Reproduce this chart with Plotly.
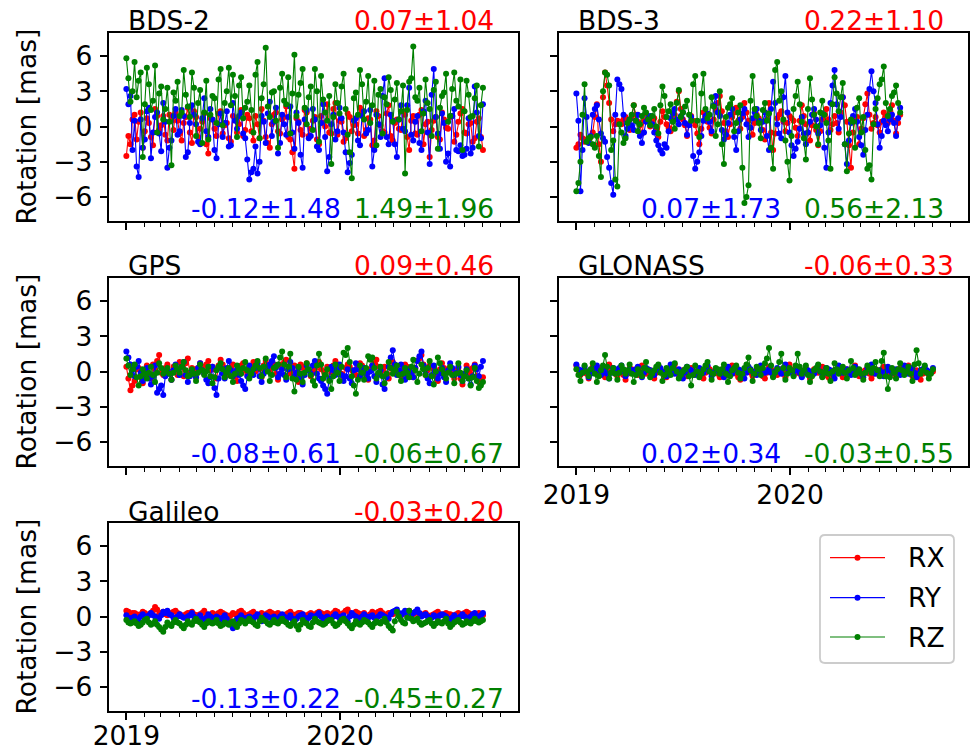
import datetime as dt
import plotly.graph_objects as go

# ---------------- data ----------------
# each series is read in two interleaved weekly samplings:
#   <name>      : weekly values starting 2019-01-01
#   <name>_mid  : weekly values starting 3.5 days later
START = dt.datetime(2019, 1, 1)
MID_OFFSET_H = 84
STEP_DAYS = 7

panel_names = ["BDS-2", "BDS-3", "GPS", "GLONASS", "Galileo"]
stat_rx = ["0.07±1.04", "0.22±1.10", "0.09±0.46", "-0.06±0.33", "-0.03±0.20"]
stat_ry = ["-0.12±1.48", "0.07±1.73", "-0.08±0.61", "0.02±0.34", "-0.13±0.22"]
stat_rz = ["1.49±1.96", "0.56±2.13", "-0.06±0.67", "-0.03±0.55", "-0.45±0.27"]

series_names = ["RX", "RY", "RZ"]
series_colors = ["#ff0000", "#0000ff", "#008000"]

y_tickvals = [-6, -3, 0, 3, 6]
y_ticktext = ["−6", "−3", "0", "3", "6"]
x_tickvals = ["2019-01-01", "2020-01-01"]
x_ticktext = ["2019", "2020"]

bds2_rx = [-2.5, -1.5, 1.0, 0.4, -1.8, 0.7, -0.9, 1.5, -0.3, 0.9,
           -1.2, 0.5, 1.2, -0.6, 0.3, 1.6, -1.4, 0.8, -0.2, 1.1,
           -2.3, 0.6, -0.8, 1.3, 0.1, -1.0, 0.9, -0.5, 1.4, -0.3,
           0.7, -1.2, 0.2, 1.5, -0.9, -1.8, 1.0, -0.4, 0.6, 1.7,
           -1.1, -3.6, 0.4, -0.7, 1.2, -0.2, 0.8, -1.5, 0.3, 1.9,
           -0.6, 2.0, 0.5, -1.3, 1.1, -0.4, 0.2, 1.6, -0.8, 0.7,
           -1.6, 1.3, 0.1, -0.5, 1.8, -1.2, 0.6, -0.3, 1.0, -2.0,
           0.9, -0.7, 1.4, 0.2, -2.6, 0.5, -0.9, 1.2, -0.1, 0.8,
           -1.3, 0.4, 1.5, -0.6, 0.3, -1.0, 0.7, -2.0]
bds2_rx_mid = [-0.8, 0.6, -1.1, 1.2, -0.4, 0.3, -1.6, 0.9, 0.1, -0.7,
               1.0, -0.3, 0.5, -1.2, 0.8, -0.5, 1.3, -0.9, 0.4, -1.5,
               0.7, -0.2, 1.1, -0.6, 0.3, -1.3, 0.6, 0.2, -0.8, 1.0,
               -0.4, 0.9, -1.0, 0.5, -1.4, 0.2, 1.2, -0.6, 0.8, -0.9,
               -2.2, 0.7, -0.3, 1.4, -0.8, 0.5, -1.1, 0.9, 0.0, -0.5,
               1.5, -0.7, 0.4, -1.0, 0.8, 0.1, -0.6, 1.2, -0.3, 0.6,
               -1.2, 0.9, -0.4, 1.1, -0.8, 0.3, -0.2, 1.3, -0.9, 0.5,
               -0.6, 1.0, -1.5, 0.4, -0.3, 0.8, -1.1, 0.6, -0.2, 0.9,
               -0.7, 1.1, -0.5, 0.2, -1.3, 0.4, -0.9]
bds2_ry = [3.2, 2.6, 0.5, -4.3, -1.8, 1.3, -2.7, 0.8, -0.6, 2.0,
           -3.5, -1.2, 1.5, -0.4, 0.9, -2.2, 1.8, 0.2, -1.5, 2.4,
           -0.9, 0.6, -2.7, 1.1, 0.3, -1.7, 2.0, -0.2, 1.2, -1.0,
           -4.5, -3.6, -4.0, 0.9, -1.4, 2.1, 0.4, -2.3, 1.0, -0.7,
           1.7, -1.9, 0.3, -3.5, 1.4, -0.8, 0.6, -2.0, 1.9, -3.8,
           0.2, -1.1, 1.6, -0.5, -3.9, -2.4, 0.7, -1.6, 1.3, -0.3,
           -3.4, 1.0, -0.9, 4.1, -1.5, 0.5, -2.6, 1.8, -0.4, 3.3,
           -1.2, 0.9, -2.0, 2.2, -3.2, 4.9, -0.6, 1.1, -3.0, -3.4,
           1.5, -2.1, -2.5, -1.9, -2.3, 3.4, -0.8, 1.9]
bds2_ry_mid = [1.9, -2.0, -3.4, 0.6, -1.1, 1.6, -0.5, 1.2, -2.1, 0.4,
               -1.8, 0.9, -0.7, 1.4, -2.6, 0.3, 1.0, -1.3, 0.7, -0.4,
               1.5, -2.0, 0.2, -0.9, 1.3, -1.6, 0.5, 0.9, -0.6, -2.8,
               -3.9, -1.7, -3.0, 0.4, 1.1, -0.8, 1.6, -1.4, 0.2, 0.8,
               -0.5, 1.2, -2.4, 0.6, -1.0, 1.5, -1.7, 0.3, -0.9, -2.6,
               1.0, -0.4, 0.7, -2.2, -3.1, 0.5, -1.2, 0.9, -0.6, 1.4,
               -2.0, 0.2, 2.6, -0.9, 1.0, -1.5, 0.6, -0.2, 1.8, -0.7,
               0.4, -1.4, 1.3, -0.5, 2.7, 0.8, -1.9, 0.3, -2.3, 0.9,
               -2.0, -1.6, -2.4, 0.7, -1.8, 1.2, -1.0]
bds2_rz = [5.8, 2.1, 5.5, 3.9, -2.6, 5.0, 1.4, 5.2, 2.8, 0.6,
           3.3, -3.3, 2.2, 0.9, 4.8, 1.7, 4.6, -0.8, 3.1, 1.2,
           -1.1, 2.6, 0.3, 4.9, 2.0, 5.0, 4.4, -0.9, 4.2, 1.6,
           3.5, -0.5, 5.5, 2.4, 6.7, 0.8, 3.0, -1.8, 4.5, 1.9,
           -0.6, 6.1, 2.7, 4.9, 0.2, 3.4, 4.9, -1.3, 2.3, 0.5,
           -3.2, 3.6, 1.1, 4.5, -0.7, -4.4, 2.9, 4.8, 0.6, 4.3,
           1.8, -1.6, 3.2, 2.5, 4.2, 0.4, 3.7, 1.3, -4.0, 3.8,
           6.8, 2.2, -0.4, 4.0, 1.5, 3.1, -1.9, 2.6, 4.5, 0.9,
           4.6, 1.7, -2.0, 3.9, 0.8, 2.4, -1.7, 3.3]
bds2_rz_mid = [4.1, 3.0, 2.5, 4.6, 1.9, 3.6, 2.2, -0.5, 3.4, 1.5,
               0.4, 2.9, 3.8, 1.2, 2.7, 0.8, 3.3, 2.0, -1.4, 3.9,
               1.0, 2.4, 4.0, 0.1, 3.0, 1.8, 2.6, 3.5, 0.7, 2.1,
               1.4, 4.4, -1.0, 3.6, 1.7, 2.9, 0.5, 3.3, 2.2, 4.2,
               2.8, 0.9, 3.7, 1.6, 2.5, -0.3, 3.0, 4.3, 1.2, 2.6,
               0.8, 2.0, 3.4, 1.5, -2.2, 2.4, 1.0, 3.6, 2.1, 0.3,
               3.9, 2.7, -0.6, 1.9, 3.1, 2.3, 0.6, 3.5, 1.4, 4.1,
               2.5, 3.3, 1.1, 2.0, -0.8, 3.8, 1.6, 2.9, 0.4, 3.2,
               2.2, 4.0, 1.3, 2.7, 0.9, 3.5, 1.8]

bds3_rx = [-1.8, -0.7, -1.3, -1.2, -0.5, 1.9, -3.0, 4.6, 2.0, -0.4,
           0.5, 0.2, 0.8, -0.3, 1.8, 0.4, -0.6, 1.1, 0.0, 0.7,
           -0.9, 1.3, 0.2, -0.4, 1.0, 3.0, 0.6, -0.8, 0.9, 0.1,
           -1.5, 1.2, 0.4, -0.6, 1.4, 2.6, 0.3, -0.9, 0.8, 1.6,
           -0.2, 2.0, 0.5, -0.7, 1.0, 0.4, -1.1, 2.0, -2.0, 0.7,
           1.3, -0.4, 0.9, 0.5, -0.8, 1.8, 0.2, -1.2, 1.1, -1.6,
           0.6, 1.5, -0.3, 0.9, -0.5, 2.5, 0.4, -3.5, 0.5, -1.5,
           0.7, 2.8, -0.2, 0.8, -0.5, 1.2, 0.3, 1.8, -0.6, 1.0]
bds3_rx_mid = [-1.5, -1.0, -1.1, -0.9, 0.8, -1.5, 2.5, 3.5, 0.6, 0.2,
               0.4, 0.6, 0.3, 0.7, 1.0, 0.1, 0.5, 0.6, 0.3, -0.2,
               0.4, 0.8, -0.1, 0.5, 2.1, 1.5, 0.1, 0.2, 0.5, -0.6,
               -0.2, 0.8, -0.1, 0.6, 2.0, 1.3, -0.4, 0.2, 1.2, 0.5,
               0.8, 1.2, -0.1, 0.3, 0.7, -0.3, 0.6, -0.5, -0.6, 1.0,
               0.4, 0.3, 0.7, -0.1, 0.5, 0.9, -0.5, 0.1, -0.3, -0.4,
               1.0, 0.6, 0.2, 0.3, 1.2, 1.8, -1.6, -0.5, 0.8, -0.2,
               1.9, 1.0, 0.3, 0.1, 0.4, 0.9, 1.2, 0.5, 0.3]
bds3_ry = [2.8, -5.5, 2.4, -1.4, 1.0, 1.8, -0.6, -1.3, -3.5, -5.8,
           4.0, 3.2, -0.8, 0.6, -0.3, 1.0, -1.4, 0.4, 0.9, -0.5,
           -1.6, -2.3, -1.8, 0.7, 1.5, 0.2, 1.2, -0.7, 0.8, -3.6,
           -2.2, 0.5, 1.1, -0.4, 2.6, 0.9, -1.1, 0.3, 1.5, -2.0,
           0.6, 1.5, -0.9, 0.7, 1.5, -0.3, 1.2, -2.0, 3.8, 0.2,
           -1.0, 4.3, -0.5, -2.5, -1.3, 0.8, -1.5, 0.4, 1.5, -0.6,
           1.1, -3.5, 2.0, 4.8, -0.2, 2.5, -3.2, 0.3, 1.5, -0.9,
           -2.4, 1.0, 4.7, 2.0, -1.8, 0.5, -0.4, 1.0, -0.8, 1.6]
bds3_ry_mid = [0.5, -2.0, 0.8, -0.8, 1.5, 0.6, -1.0, -2.6, -4.8, 1.0,
               3.6, 1.0, -0.2, 0.1, 0.5, -0.8, -0.5, 0.7, 0.2, -1.2,
               -2.0, -1.5, -0.4, 1.1, 0.6, 0.9, 0.3, 0.1, -2.5, -3.0,
               -0.8, 0.9, 0.4, 1.8, 1.2, -0.3, -0.7, 1.0, -0.9, -0.4,
               1.1, 0.2, -0.1, 1.2, 0.5, 0.4, -0.8, 1.5, 2.0, -0.6,
               2.5, 1.2, -1.6, -1.9, -0.2, -0.6, -0.5, 1.0, 0.6, 0.1,
               -1.8, -0.5, 3.5, 1.9, 0.8, -1.5, -1.2, 0.9, 0.4, -1.6,
               -0.3, 3.2, 3.0, 0.2, -0.8, 0.1, 0.6, 0.3, 0.7]
bds3_rz = [-5.5, -3.0, 3.6, -1.0, -1.5, -0.8, -4.3, 4.6, 3.5, -1.2,
           -5.1, -0.5, -1.0, 0.6, 1.8, -0.4, 0.9, 1.2, 0.1, 1.5,
           -0.6, 3.4, 0.8, 1.9, -0.2, 3.1, 1.2, 2.2, 0.5, 4.3,
           -0.9, 4.5, 0.7, 2.5, -0.8, 3.0, -3.2, 1.6, 2.4, 0.3,
           1.8, -6.5, -5.0, 4.3, 0.9, -1.0, 2.0, 1.1, -3.6, 5.5,
           3.0, -1.2, -4.6, 1.5, 3.8, 0.4, -2.8, 4.1, 1.0, -1.5,
           2.2, 0.3, -3.6, 4.2, 1.3, 3.7, -3.8, 0.6, -1.8, 2.4,
           0.8, -3.6, -4.5, 1.5, 3.6, 5.1, 0.9, 2.6, 3.5, 1.2]
bds3_rz_mid = [-4.8, 1.0, -1.3, -0.9, -1.8, -2.5, 3.0, 4.4, -2.0, -4.5,
               0.2, -1.4, 0.3, 1.0, 0.5, 0.2, 1.6, 0.6, 0.9, 0.0,
               1.8, 2.6, 1.3, 0.4, 2.0, 0.8, 1.7, 1.0, 3.6, 0.5,
               2.8, 1.5, 1.0, 1.7, 0.2, -1.5, 0.8, 1.9, -0.4, 1.2,
               -3.5, -6.0, 2.2, 1.5, 0.3, 1.4, 0.5, -1.8, 4.8, 2.2,
               0.6, -3.0, -0.8, 2.6, 1.9, -1.0, 1.5, 2.3, 0.0, 1.2,
               1.0, -1.2, 1.9, 2.8, 2.5, -1.5, -0.6, 0.4, 1.6, -0.5,
               -2.0, -3.3, 0.2, 2.4, 4.0, 2.0, 1.5, 2.9, 2.0]

gps_rx = [0.4, -1.6, -0.8, 0.3, -1.0, 0.5, -0.6, 0.2, 1.4, -0.3,
          0.6, -0.7, 0.1, 0.8, -0.4, 1.1, 0.3, -0.5, 0.7, -0.2,
          0.9, 0.4, -0.6, 1.0, 0.2, -0.3, 0.6, -0.8, 0.5, 0.1,
          -0.4, 0.8, 0.3, -0.5, 0.9, 0.0, 0.6, -0.7, 0.4, 1.0,
          -0.2, 0.5, -0.9, 0.3, 0.7, -0.4, 0.2, 0.8, -0.6, 0.4,
          -0.1, 0.9, 0.3, -0.5, 0.6, 0.1, -0.3, 0.7, 0.2, -0.7,
          0.5, 1.0, -0.2, 0.4, -0.6, 0.8, 0.1, -0.4, 0.6, 0.3,
          -0.5, 0.9, 1.4, -0.3, 0.5, 0.2, -0.8, 0.7, 0.0, 0.4,
          -0.6, 0.3, -1.1, 0.5, -0.2, 0.6, -0.9, -0.5]
gps_rx_mid = [-0.6, -1.2, 0.2, -0.5, 0.1, -0.2, 0.6, 0.9, -0.1, 0.3,
              0.0, 0.4, -0.3, 0.5, 0.7, -0.1, 0.2, 0.3, 0.4, 0.6,
              0.1, 0.2, 0.5, 0.6, -0.1, 0.3, -0.4, 0.1, 0.7, -0.2,
              0.4, 0.0, 0.2, 0.5, 0.3, 0.4, -0.2, 0.6, 0.8, 0.2,
              0.1, -0.5, 0.6, 0.4, 0.1, -0.1, 0.5, 0.2, 0.0, 0.3,
              0.5, 0.6, -0.2, 0.3, 0.4, -0.1, 0.4, 0.5, -0.3, 0.2,
              0.7, 0.4, 0.1, -0.2, 0.3, 0.5, -0.1, 0.2, 0.4, -0.1,
              0.3, 1.1, 0.6, 0.1, 0.4, -0.4, 0.2, 0.3, 0.2, -0.2,
              0.1, -0.6, -0.2, 0.2, 0.3, -0.4, -0.7]
gps_ry = [1.7, 0.6, -0.4, 0.9, -0.8, 0.3, -1.1, 0.5, -1.5, -2.0,
          0.2, -0.7, 0.6, -0.3, 0.8, -0.9, 0.1, -0.5, 0.7, -0.2,
          -1.0, 0.4, -2.0, 0.3, -0.6, 0.9, -0.4, 0.2, -0.8, -1.5,
          0.5, -0.3, 0.7, -0.9, 0.1, 0.6, 1.3, -0.5, 0.2, -0.7,
          0.8, -0.4, 0.3, -1.1, 0.5, -0.2, 0.9, -0.6, -1.2, -1.9,
          0.4, -0.3, 0.6, -0.8, 0.2, -1.0, 0.7, -0.4, 0.3, -0.6,
          0.5, -0.9, 0.1, -1.5, 0.4, 1.8, -0.3, 0.6, -0.7, 0.2,
          -0.5, 0.9, 1.7, -0.2, -1.0, 0.5, -0.6, 0.3, -0.9, 0.7,
          -0.3, 0.4, -0.8, 0.2, -1.1, 0.5, -0.4, 0.9]
gps_ry_mid = [1.2, 0.1, 0.4, -0.1, -0.3, -0.6, -0.4, -1.8, -1.2, -0.4,
              -0.2, 0.1, 0.2, 0.4, -0.3, -0.4, -0.2, 0.3, 0.1, -0.7,
              -0.5, -1.4, -0.6, -0.2, 0.3, 0.1, -0.1, -0.3, -1.2, -0.4,
              0.1, 0.3, -0.4, -0.2, 0.4, 0.9, 0.3, -0.2, -0.3, 0.2,
              0.3, -0.1, -0.5, -0.3, 0.1, 0.5, -0.2, -0.8, -1.5, -0.6,
              0.1, 0.2, -0.3, -0.4, -0.6, 0.1, 0.2, -0.1, -0.2, 0.0,
              -0.4, -0.3, -1.1, -0.5, 1.2, 0.6, 0.1, -0.2, -0.3, -0.1,
              0.3, 1.3, 0.5, -0.6, -0.3, 0.0, -0.2, -0.5, 0.1, 0.3,
              -0.1, -0.3, -0.2, -0.6, -0.4, 0.2, 0.4]
gps_rz = [1.1, -0.3, 0.6, -1.2, 0.2, -0.6, 0.4, -0.9, 0.7, -0.2,
          0.3, -0.7, 0.5, -0.1, 0.8, -0.4, 0.2, -0.8, 0.6, -0.3,
          0.4, -1.0, 0.1, 0.7, -0.5, 0.3, -0.9, 0.5, -0.2, 0.8,
          -0.6, 0.2, 0.9, -0.4, 1.1, -0.8, 0.3, 0.6, 1.7, -0.5,
          1.5, -1.7, 0.4, -0.9, 0.7, -0.3, -1.2, 1.5, -0.6, 0.2,
          -1.5, 0.6, -0.8, 1.6, 2.0, -0.4, -1.9, 0.5, -0.7, 1.3,
          1.2, -0.6, 0.4, -1.0, 0.8, -0.2, 0.5, -0.8, 0.3, -0.5,
          1.0, -0.9, 0.6, -0.3, 0.9, -1.1, 1.2, 0.2, -0.6, 0.4,
          -1.0, 0.7, -0.8, 0.1, -1.2, 0.3, -1.4, -0.9]
gps_rz_mid = [0.5, 0.2, -0.5, -0.4, -0.2, -0.1, -0.3, -0.1, 0.3, 0.0,
              -0.2, -0.1, 0.2, 0.4, 0.1, -0.3, -0.2, -0.1, 0.1, 0.0,
              -0.4, -0.5, 0.4, 0.2, -0.1, -0.4, -0.2, 0.2, 0.3, 0.1,
              -0.2, 0.5, 0.3, 0.4, 0.0, -0.3, 0.4, 1.2, 0.6, 0.4,
              -0.6, -0.7, -0.2, -0.1, 0.2, -0.8, 0.5, 0.6, -0.3, -0.8,
              -0.4, -0.1, 0.4, 1.4, 0.8, -1.2, -0.7, -0.1, 0.3, 1.0,
              0.3, -0.1, -0.4, -0.2, 0.3, 0.1, -0.3, -0.2, -0.1, 0.4,
              0.1, -0.2, 0.2, 0.3, -0.4, 0.0, 0.7, -0.2, -0.1, -0.3,
              -0.2, -0.1, -0.4, -0.6, -0.5, -0.8, -1.2]

glo_rx = [0.5, -0.3, 0.2, -0.6, 0.4, -0.1, 0.3, -0.5, 0.6, 0.1,
          -0.4, 0.2, -0.7, 0.3, 0.0, -0.3, 0.5, -0.2, 0.1, -0.6,
          0.4, -0.1, -0.5, 0.2, 0.6, -0.3, 0.1, -0.4, 0.3, -0.2,
          0.0, -0.6, 0.4, -0.1, 0.2, -0.5, 0.3, -0.3, 0.5, -0.2,
          -0.7, 0.1, 0.3, -0.4, 0.2, -0.1, -0.6, 0.4, 0.0, -0.3,
          0.2, -0.5, 0.6, -0.2, 0.1, -0.4, 0.3, -0.6, 0.2, -0.1,
          0.4, -0.3, -0.7, 0.1, 0.3, -0.5, 0.2, -0.2, 0.5, -0.4,
          0.0, 0.3, -0.6, 0.2, -0.1, 0.4, -0.3, 0.1, -0.5, 0.3,
          -0.2, 0.5, -0.4, 0.1, -0.7, 0.2, -0.3, 0.0]
glo_rx_mid = [0.1, -0.1, -0.2, -0.1, 0.2, 0.1, -0.1, 0.0, 0.3, -0.2,
              -0.1, -0.3, -0.2, 0.2, -0.2, 0.1, 0.2, -0.1, -0.3, -0.1,
              0.2, -0.4, 0.0, 0.4, 0.1, -0.2, -0.1, 0.0, 0.1, -0.2,
              -0.3, -0.1, 0.2, 0.0, -0.2, -0.1, 0.0, 0.2, 0.1, -0.5,
              -0.2, 0.2, -0.1, -0.1, 0.0, -0.4, -0.1, 0.2, -0.2, -0.1,
              -0.2, 0.1, 0.2, -0.1, -0.2, 0.0, -0.2, -0.2, 0.1, 0.2,
              0.0, -0.5, -0.3, 0.2, -0.1, -0.2, 0.0, 0.1, 0.1, -0.2,
              0.1, -0.2, -0.2, 0.0, 0.2, 0.0, -0.1, -0.2, -0.1, 0.1,
              0.2, 0.0, -0.2, -0.3, -0.2, -0.1, -0.1]
glo_ry = [0.6, -0.2, 0.4, -0.5, 0.1, 0.5, -0.3, 0.2, -0.6, 0.3,
          0.0, 0.5, -0.4, 0.2, -0.1, 0.4, -0.5, 0.3, 0.1, -0.3,
          0.5, 0.0, -0.4, 0.6, -0.2, 0.2, -0.6, 0.4, 0.1, -0.3,
          0.3, -0.1, 0.5, -0.4, 0.2, 0.0, -0.5, 0.4, -0.2, 0.3,
          0.1, -0.6, 0.4, 0.0, -0.3, 0.5, -0.1, 0.2, -0.4, 0.3,
          -0.2, 0.6, 0.1, -0.3, 0.4, -0.5, 0.2, 0.0, -0.2, 0.5,
          -0.4, 0.3, 0.1, -0.6, 0.5, -0.1, 0.2, -0.3, 0.4, 0.0,
          -0.5, 0.3, 0.6, -0.2, 0.1, -0.4, 0.4, -0.1, 0.2, -0.3,
          0.5, -0.2, 0.3, -0.5, 0.1, 0.4, -0.2, 0.3]
glo_ry_mid = [0.2, 0.1, 0.0, -0.2, 0.3, 0.1, -0.1, -0.2, -0.1, 0.2,
              0.3, 0.0, -0.1, 0.1, 0.2, -0.1, -0.1, 0.2, -0.1, 0.1,
              0.3, -0.2, 0.2, 0.2, 0.0, -0.2, -0.1, 0.2, -0.1, 0.0,
              0.1, 0.2, 0.0, -0.1, 0.1, -0.2, 0.0, 0.1, 0.1, 0.2,
              -0.2, -0.1, 0.2, -0.2, 0.1, 0.2, 0.0, -0.1, 0.0, 0.0,
              0.3, 0.3, -0.1, 0.1, -0.1, -0.1, 0.1, -0.1, 0.2, 0.0,
              -0.1, 0.2, -0.2, 0.0, 0.2, 0.0, -0.1, 0.1, 0.2, -0.2,
              -0.1, 0.4, 0.2, -0.1, -0.1, 0.0, 0.1, 0.0, 0.0, 0.1,
              0.2, 0.0, -0.1, -0.2, 0.2, 0.1, 0.0]
glo_rz = [0.2, -0.8, 0.5, -0.4, 0.7, -0.9, 0.1, 1.4, -0.6, 0.3,
          -0.7, 0.5, -0.2, 0.6, -0.9, 0.2, -0.4, 0.8, -0.5, 0.1,
          0.6, -0.8, 0.3, -0.3, 0.7, -0.6, 0.0, 0.4, -1.2, 0.5,
          -0.5, 0.2, 0.8, -0.7, 0.3, -0.2, 0.6, -0.9, 0.1, 0.5,
          -0.6, 0.3, 1.2, -0.8, 0.4, -0.3, 0.7, 2.0, -0.5, 0.2,
          1.5, -0.7, 0.3, -0.4, 1.5, -0.2, 0.5, -0.9, 0.1, 0.6,
          -0.5, 0.3, -0.8, 0.7, -0.2, 0.4, -0.6, 0.9, -0.3, 0.2,
          -0.7, 0.5, -0.1, 0.8, -0.4, 1.6, -1.5, 0.3, -0.6, 0.7,
          -0.3, 0.4, -0.8, 1.8, -0.2, 0.5, -0.6, 0.2]
glo_rz_mid = [-0.3, -0.1, 0.0, 0.2, -0.2, -0.4, 0.5, 0.4, -0.1, -0.2,
              -0.1, 0.2, 0.1, -0.2, -0.3, -0.1, 0.3, 0.1, -0.2, 0.4,
              -0.1, -0.3, 0.0, 0.3, 0.0, -0.3, 0.2, -0.4, -0.3, 0.0,
              -0.2, 0.5, 0.0, -0.2, 0.2, 0.2, -0.2, -0.4, 0.3, -0.1,
              -0.2, 0.6, 0.1, -0.2, 0.2, 0.3, 1.1, 0.5, -0.1, 0.8,
              0.3, -0.2, 0.1, 0.5, 0.4, 0.1, -0.3, -0.4, 0.3, 0.0,
              -0.1, -0.2, 0.0, 0.2, 0.1, -0.1, 0.1, 0.3, -0.1, -0.2,
              -0.1, 0.2, 0.3, 0.1, 0.9, -0.4, -0.5, -0.1, 0.2, 0.1,
              0.0, -0.2, 0.6, 0.7, 0.1, -0.1, -0.2]

gal_rx = [0.5, 0.2, 0.3, 0.0, 0.4, 0.1, 0.3, 0.8, 0.2, 0.4,
          0.1, 0.3, 0.5, 0.2, 0.0, 0.3, 0.4, 0.1, 0.2, 0.5,
          0.0, 0.3, 0.1, 0.4, 0.2, -0.1, 0.3, 0.2, 0.5, 0.1,
          0.2, 0.4, 0.0, 0.3, 0.1, 0.4, 0.2, 0.3, 0.0, 0.2,
          0.4, 0.1, 0.3, 0.2, 0.0, 0.3, 0.1, 0.4, 0.2, 0.3,
          0.1, 0.5, 0.2, 0.3, 0.6, 0.1, 0.4, 0.2, 0.3, 0.0,
          0.4, 0.2, 0.5, 0.1, 0.3, 0.2, 0.4, 0.1, 0.3, 0.5,
          0.2, 0.4, 0.1, 0.3, 0.0, 0.2, 0.4, 0.1, 0.3, 0.2,
          0.0, 0.3, 0.1, 0.4, 0.2, 0.0, 0.3, 0.1]
gal_rx_mid = [0.4, 0.3, 0.2, 0.2, 0.3, 0.2, 0.5, 0.6, 0.3, 0.2,
              0.2, 0.4, 0.3, 0.1, 0.2, 0.3, 0.2, 0.1, 0.3, 0.2,
              0.1, 0.2, 0.3, 0.3, 0.1, 0.1, 0.2, 0.4, 0.3, 0.1,
              0.3, 0.2, 0.1, 0.2, 0.3, 0.3, 0.2, 0.1, 0.1, 0.3,
              0.2, 0.2, 0.3, 0.1, 0.2, 0.2, 0.3, 0.3, 0.2, 0.2,
              0.3, 0.4, 0.2, 0.5, 0.3, 0.2, 0.3, 0.2, 0.1, 0.2,
              0.3, 0.4, 0.3, 0.2, 0.3, 0.3, 0.2, 0.2, 0.4, 0.3,
              0.3, 0.2, 0.2, 0.1, 0.1, 0.3, 0.2, 0.2, 0.2, 0.1,
              0.2, 0.2, 0.3, 0.3, 0.1, 0.2, 0.2]
gal_ry = [0.1, -0.2, 0.0, -0.3, 0.2, -0.1, 0.3, 0.0, -0.2, 0.4,
          0.5, 0.1, -0.3, 0.2, -0.1, 0.0, 0.3, -0.2, 0.1, -0.4,
          0.2, -0.1, 0.0, -0.3, 0.1, -0.5, -1.0, -0.2, 0.1, -0.3,
          0.0, -0.2, 0.2, -0.4, 0.1, -0.1, 0.0, -0.3, 0.2, -0.2,
          0.1, -0.4, 0.0, 0.2, -0.3, 0.1, -0.1, 0.3, -0.2, 0.0,
          -0.3, 0.2, -0.1, 0.1, -0.4, 0.3, 0.0, -0.2, 0.2, -0.1,
          0.1, -0.3, 0.2, 0.0, -0.2, 0.4, 0.6, 0.1, 0.5, -0.1,
          0.3, 0.6, 0.0, 0.2, -0.2, 0.1, -0.1, 0.2, 0.0, -0.3,
          0.1, -0.2, 0.2, -0.1, 0.0, 0.3, -0.2, 0.3]
gal_ry_mid = [-0.1, -0.1, -0.2, 0.0, 0.0, 0.1, 0.1, -0.1, 0.1, 0.3,
              0.2, -0.1, 0.0, 0.0, -0.1, 0.1, 0.0, -0.1, -0.2, -0.1,
              0.0, -0.2, -0.1, -0.1, -0.2, -0.7, -0.5, -0.1, -0.1, -0.1,
              -0.1, 0.0, -0.1, -0.1, 0.0, -0.1, -0.2, 0.0, 0.0, -0.1,
              -0.2, -0.2, 0.1, -0.1, -0.1, 0.0, 0.1, 0.0, -0.1, -0.2,
              0.0, 0.0, 0.0, -0.2, 0.0, 0.1, -0.1, 0.0, 0.0, 0.0,
              -0.1, 0.0, 0.1, -0.1, 0.2, 0.5, 0.3, 0.3, 0.2, 0.1,
              0.4, 0.3, 0.1, 0.0, -0.1, 0.0, 0.1, 0.1, -0.2, -0.1,
              -0.1, 0.0, 0.0, -0.1, 0.2, 0.0, 0.1]
gal_rz = [-0.3, -0.6, -0.4, -0.8, -0.5, -0.2, -0.7, -0.4, -0.9, -1.3,
          -0.5, -0.8, -0.3, -0.6, -1.0, -0.4, -0.7, -0.2, -0.5, -0.9,
          -0.4, -0.6, -0.3, -0.8, -0.5, -0.7, -0.4, -0.9, -0.3, -0.6,
          -0.2, -0.5, -0.8, -0.1, -0.4, -0.7, -0.3, -0.6, -0.2, -0.5,
          -0.8, -0.4, -1.1, -0.3, -0.6, -0.9, -0.2, -0.5, -0.7, -0.4,
          -0.3, -0.8, -0.5, -0.2, -0.6, -1.0, -0.4, -0.7, -0.3, -0.5,
          -0.9, -0.4, -0.6, -0.2, -0.8, -1.2, 0.4, -0.3, -0.6, 0.5,
          -0.4, -0.2, -0.7, -0.5, -0.3, -0.8, -0.4, -0.6, -0.2, -0.9,
          -0.5, -0.3, -0.7, -0.4, -0.6, -0.2, -0.5, -0.3]
gal_rz_mid = [-0.5, -0.5, -0.6, -0.7, -0.3, -0.5, -0.6, -0.7, -1.1, -0.9,
              -0.7, -0.5, -0.5, -0.8, -0.7, -0.6, -0.4, -0.4, -0.7, -0.6,
              -0.5, -0.5, -0.6, -0.7, -0.6, -0.5, -0.7, -0.6, -0.4, -0.4,
              -0.4, -0.7, -0.4, -0.3, -0.6, -0.5, -0.5, -0.4, -0.4, -0.7,
              -0.6, -0.8, -0.7, -0.5, -0.8, -0.5, -0.4, -0.6, -0.6, -0.3,
              -0.6, -0.7, -0.3, -0.4, -0.8, -0.7, -0.6, -0.5, -0.4, -0.7,
              -0.6, -0.5, -0.4, -0.5, -1.0, -0.4, 0.0, -0.5, -0.1, -0.2,
              -0.3, -0.5, -0.6, -0.4, -0.6, -0.6, -0.5, -0.4, -0.6, -0.7,
              -0.4, -0.5, -0.6, -0.5, -0.4, -0.4, -0.4]

panel_series = [
    ((bds2_rx, bds2_rx_mid), (bds2_ry, bds2_ry_mid), (bds2_rz, bds2_rz_mid)),
    ((bds3_rx, bds3_rx_mid), (bds3_ry, bds3_ry_mid), (bds3_rz, bds3_rz_mid)),
    ((gps_rx, gps_rx_mid), (gps_ry, gps_ry_mid), (gps_rz, gps_rz_mid)),
    ((glo_rx, glo_rx_mid), (glo_ry, glo_ry_mid), (glo_rz, glo_rz_mid)),
    ((gal_rx, gal_rx_mid), (gal_ry, gal_ry_mid), (gal_rz, gal_rz_mid)),
]

# ---------------- layout geometry (pixels) ----------------
W, H = 970, 751
FONT = "DejaVu Sans"
FS = 26.5
col_px = [(108.5, 517.5), (558.5, 967.5)]
row_px = [(32.5, 220.5), (277.5, 465.5), (522.5, 710.5)]
panel_pos = [(0, 0), (0, 1), (1, 0), (1, 1), (2, 0)]  # (row, col)
x_range = ["2018-12-01 12:00", "2020-10-30"]


def merged(main, mid):
    pts = [(START + dt.timedelta(days=STEP_DAYS * k), v) for k, v in enumerate(main)]
    pts += [(START + dt.timedelta(hours=MID_OFFSET_H) + dt.timedelta(days=STEP_DAYS * k), v)
            for k, v in enumerate(mid)]
    pts.sort(key=lambda p: p[0])
    return [p[0] for p in pts], [p[1] for p in pts]


def px_x(p):
    return p / W


def px_y(p):
    return 1 - p / H


fig = go.Figure()
annotations = []
layout_axes = {}

for i, (name, triple) in enumerate(zip(panel_names, panel_series)):
    r, c = panel_pos[i]
    x0, x1 = col_px[c]
    y0, y1 = row_px[r]
    suffix = "" if i == 0 else str(i + 1)
    xa, ya = "x" + suffix, "y" + suffix

    for (main, mid), sname, col in zip(triple, series_names, series_colors):
        xs, ys = merged(main, mid)
        fig.add_trace(go.Scatter(
            x=xs, y=ys, mode="lines+markers", name=sname,
            line=dict(color=col, width=1.1), marker=dict(color=col, size=6),
            xaxis=xa, yaxis=ya, showlegend=False, hoverinfo="skip"))

    show_xlabels = (r == 2) or (r == 1 and c == 1)
    layout_axes["xaxis" + suffix] = dict(
        domain=[px_x(x0), px_x(x1)], anchor=ya, type="date", range=x_range,
        automargin=False,
        showline=True, mirror=True, linecolor="black", linewidth=1.5,
        ticks="outside", ticklen=8, tickwidth=1.5, tickcolor="black",
        tickmode="array", tickvals=x_tickvals, ticktext=x_ticktext,
        showticklabels=show_xlabels, ticklabelstandoff=(-7 if r == 2 else -3),
        tickfont=dict(family=FONT, size=FS, color="black"),
        showgrid=False, zeroline=False, fixedrange=True,
        minor=dict(ticks="outside", ticklen=4.5, tickwidth=1.2, tickcolor="black",
                   dtick="M1", tick0="2019-01-01", showgrid=False),
    )
    layout_axes["yaxis" + suffix] = dict(
        domain=[px_y(y1), px_y(y0)], anchor=xa, range=[-8, 8],
        automargin=False,
        showline=True, mirror=True, linecolor="black", linewidth=1.5,
        ticks="outside", ticklen=7, tickwidth=1.5, tickcolor="black",
        tickmode="array", tickvals=y_tickvals, ticktext=y_ticktext,
        showticklabels=(c == 0), ticklabelstandoff=2,
        tickfont=dict(family=FONT, size=FS, color="black"),
        showgrid=False, zeroline=False, fixedrange=True,
    )

    top_anchor = px_y(y0 + 6)
    bot_anchor = px_y(y1 + 5.5)
    annotations += [
        dict(text=name, x=px_x(x0 + 17), y=top_anchor, xanchor="left",
             yanchor="bottom", font=dict(color="black")),
        dict(text=stat_rx[i], x=px_x(x0 + 243.5), y=top_anchor, xanchor="left",
             yanchor="bottom", font=dict(color=series_colors[0])),
        dict(text=stat_ry[i], x=px_x(x0 + 80.5), y=bot_anchor, xanchor="left",
             yanchor="bottom", font=dict(color=series_colors[1])),
        dict(text=stat_rz[i], x=px_x(x0 + 243.5), y=bot_anchor, xanchor="left",
             yanchor="bottom", font=dict(color=series_colors[2])),
    ]
    if c == 0:
        annotations.append(dict(text="Rotation [mas]", textangle=-90,
                                x=px_x(26), y=px_y((y0 + y1) / 2),
                                xanchor="center", yanchor="middle",
                                font=dict(color="black")))

for a in annotations:
    a.update(xref="paper", yref="paper", showarrow=False)
    a["font"] = dict(family=FONT, size=FS, color=a["font"]["color"])

# ---------------- legend (drawn) ----------------
lx0, lx1, ly0, ly1 = 820, 954, 535, 663
rad = 5
rx_, ry_ = rad / W, rad / H
X0, X1, Y0, Y1 = px_x(lx0), px_x(lx1), px_y(ly0), px_y(ly1)
path = (f"M {X0 + rx_},{Y0} L {X1 - rx_},{Y0} Q {X1},{Y0} {X1},{Y0 - ry_} "
        f"L {X1},{Y1 + ry_} Q {X1},{Y1} {X1 - rx_},{Y1} "
        f"L {X0 + rx_},{Y1} Q {X0},{Y1} {X0},{Y1 + ry_} "
        f"L {X0},{Y0 - ry_} Q {X0},{Y0} {X0 + rx_},{Y0} Z")
shapes = [dict(type="path", path=path, xref="paper", yref="paper",
               line=dict(color="#cccccc", width=1.8), fillcolor="white", layer="above")]
leg_rows = [557.7, 597.7, 637.0]
for sname, col, yy in zip(series_names, series_colors, leg_rows):
    shapes.append(dict(type="line", xref="paper", yref="paper",
                       x0=px_x(830), x1=px_x(885), y0=px_y(yy), y1=px_y(yy),
                       line=dict(color=col, width=1.2), layer="above"))
    rr = 3
    shapes.append(dict(type="circle", xref="paper", yref="paper",
                       x0=px_x(857.5 - rr), x1=px_x(857.5 + rr),
                       y0=px_y(yy + rr), y1=px_y(yy - rr),
                       fillcolor=col, line=dict(color=col, width=0), layer="above"))
    annotations.append(dict(text=sname, x=px_x(906), y=px_y(yy), xref="paper",
                            yref="paper", xanchor="left", yanchor="middle",
                            showarrow=False,
                            font=dict(family=FONT, size=FS, color="black")))

fig.update_layout(
    width=W, height=H, margin=dict(l=0, r=0, t=0, b=0),
    paper_bgcolor="white", plot_bgcolor="white",
    font=dict(family=FONT, size=FS, color="black"),
    showlegend=False, annotations=annotations, shapes=shapes,
    **layout_axes,
)

fig.write_html("out.html")
